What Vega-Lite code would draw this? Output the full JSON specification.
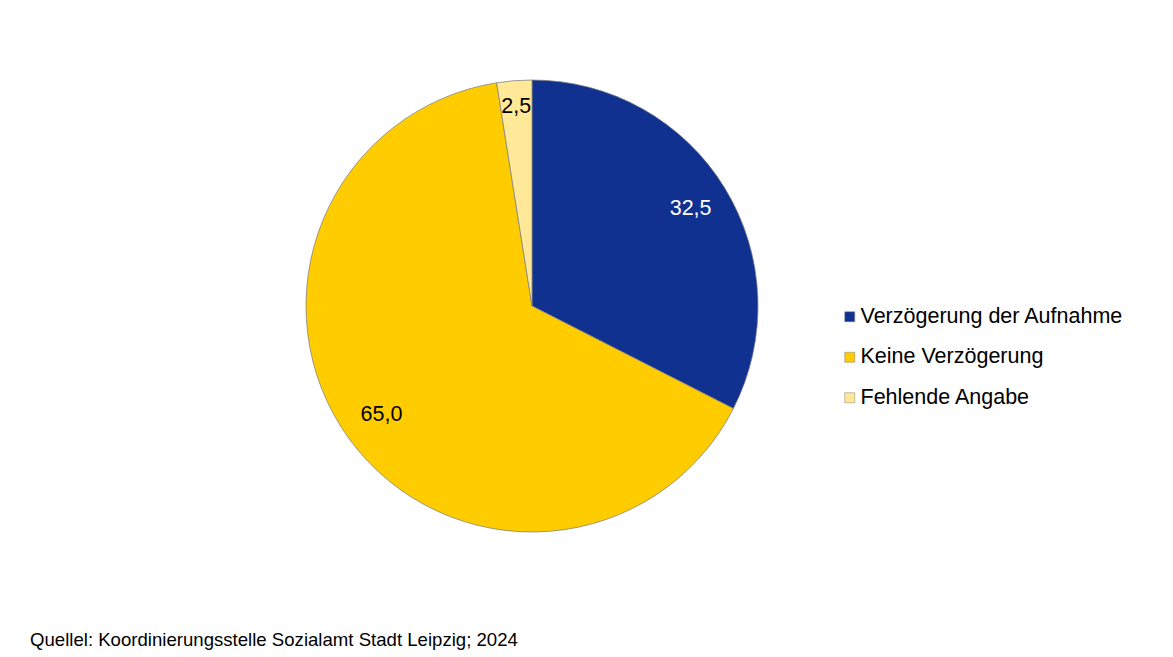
{
  "$schema": "https://vega.github.io/schema/vega-lite/v6.json",
  "width": 1050,
  "height": 598,
  "padding": {"left": 7, "top": 7, "right": 0, "bottom": 0},
  "autosize": {"type": "pad"},
  "background": "white",
  "config": {
    "view": {"stroke": null},
    "font": "Liberation Sans",
    "locale": {"number": {"decimal": ",", "thousands": ".", "grouping": [3], "currency": ["", " €"]}}
  },
  "title": {
    "text": "Quellel: Koordinierungsstelle Sozialamt Stadt Leipzig; 2024",
    "orient": "bottom",
    "anchor": "start",
    "dx": 23,
    "offset": 26,
    "fontSize": 18.6,
    "fontWeight": "normal",
    "color": "black",
    "font": "Liberation Sans"
  },
  "data": {
    "values": [
      {"nr": 1, "kategorie": "Verzögerung der Aufnahme", "anteil": 32.5},
      {"nr": 2, "kategorie": "Keine Verzögerung", "anteil": 65.0},
      {"nr": 3, "kategorie": "Fehlende Angabe", "anteil": 2.5}
    ]
  },
  "layer": [
    {
      "mark": {"type": "arc", "outerRadius": 226, "stroke": "#7f7f7f", "strokeWidth": 0.75},
      "encoding": {
        "theta": {"field": "anteil", "type": "quantitative", "stack": true},
        "order": {"field": "nr", "type": "quantitative"},
        "color": {
          "field": "kategorie",
          "type": "nominal",
          "scale": {
            "domain": ["Verzögerung der Aufnahme", "Keine Verzögerung", "Fehlende Angabe"],
            "range": ["#10318f", "#ffcc00", "#ffe999"]
          },
          "legend": {
            "orient": "none",
            "legendX": 832,
            "legendY": 299,
            "title": null,
            "symbolType": "square",
            "symbolSize": 100,
            "labelFontSize": 21.5,
            "labelFont": "Liberation Sans",
            "labelColor": "black",
            "labelLimit": 500,
            "rowPadding": 17.5,
            "labelOffset": 0,
            "symbolStrokeColor": "#7f7f7f",
            "symbolStrokeWidth": 0.5,
            "padding": 0
          }
        }
      }
    },
    {
      "mark": {"type": "text", "radius": 186, "fontSize": 21.5, "font": "Liberation Sans"},
      "encoding": {
        "theta": {"field": "anteil", "type": "quantitative", "stack": true},
        "order": {"field": "nr", "type": "quantitative"},
        "text": {"condition": {"test": "datum.nr === 3", "value": ""}, "field": "anteil", "type": "quantitative", "format": ".1f"},
        "color": {"condition": {"test": "datum.nr === 1", "value": "white"}, "value": "black"}
      }
    },
    {
      "mark": {"type": "text", "radius": 200, "dx": 0, "fontSize": 21.5, "font": "Liberation Sans", "color": "black"},
      "encoding": {
        "theta": {"field": "anteil", "type": "quantitative", "stack": true},
        "order": {"field": "nr", "type": "quantitative"},
        "text": {"condition": {"test": "datum.nr !== 3", "value": ""}, "field": "anteil", "type": "quantitative", "format": ".1f"}
      }
    }
  ]
}
